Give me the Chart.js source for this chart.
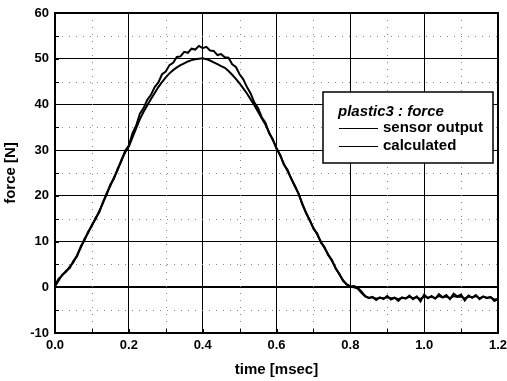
<!DOCTYPE html>
<html lang="en">
<head>
<meta charset="UTF-8" />
<title>plastic3 : force</title>
<script src="https://cdn.jsdelivr.net/npm/chart.js"></script>
<style>
  body { margin: 0; background: #fff; }
  .wrap { position: relative; width: 507px; height: 381px; }
</style>
</head>
<body>
<div class="wrap"><canvas id="forceChart" width="507" height="381"></canvas></div>
<script>
// samples every 0.01 msec, from 0.00 to 1.20
const sampleStep = 0.01;

const sensorOutput = [
  0.4, 1.9, 2.6, 3.6, 4.2, 5.8, 6.8, 9.0, 10.3, 12.2,
  13.4, 15.2, 16.4, 18.7, 20.3, 22.5, 23.8, 26.0, 27.6, 29.9,
  31.0, 33.7, 35.4, 38.0, 39.2, 41.0, 42.1, 43.8, 44.8, 46.6,
  47.2, 48.6, 49.1, 50.4, 50.5, 51.5, 51.3, 52.2, 52.0, 52.8,
  52.3, 52.6, 51.8, 51.7, 50.8, 51.0, 50.3, 50.2, 48.8, 48.2,
  46.6, 45.5, 43.8, 42.4, 40.4, 39.2, 37.2, 36.0, 33.7, 32.4,
  30.3, 29.0, 26.8, 25.7, 23.7, 22.2, 20.4, 18.3, 16.2, 14.8,
  12.8, 11.8, 9.8, 8.8, 7.0, 6.0, 4.1, 3.0, 1.4, 0.7,
  0.2, 0.3, -0.1, -0.9, -1.9, -2.4, -2.1, -2.8, -2.2, -2.6,
  -1.9, -2.7, -2.3, -3.0, -2.2, -2.5, -1.8, -2.6, -2.0, -3.1,
  -1.6, -2.4, -1.9, -2.5, -1.5, -2.2, -1.7, -2.6, -1.4, -2.0,
  -1.6, -2.9, -1.8, -2.3, -1.7, -2.6, -2.0, -2.4, -2.1, -3.0, -2.6
];

const calculated = [
  0.2, 1.5, 2.8, 3.4, 4.5, 5.5, 7.1, 8.7, 10.6, 11.9,
  13.7, 14.9, 16.7, 18.4, 20.6, 22.2, 24.1, 25.7, 27.9, 29.5,
  30.8, 32.8, 34.8, 36.8, 38.4, 39.8, 41.2, 42.5, 43.8, 44.9,
  45.9, 46.8, 47.5, 48.1, 48.6, 49.0, 49.4, 49.7, 49.9, 50.0,
  50.1, 49.9, 49.6, 49.2, 48.8, 48.4, 48.0, 47.3, 46.5, 45.6,
  44.6, 43.5, 42.4, 41.1, 39.8, 38.4, 37.0, 35.6, 33.9, 32.2,
  30.5, 28.8, 27.0, 25.4, 23.8, 22.0, 20.5, 18.1, 16.4, 14.6,
  13.0, 11.6, 10.0, 8.6, 7.2, 5.8, 4.3, 2.8, 1.6, 0.6,
  0.1, 0.0, -0.3, -1.2, -2.0, -2.3, -2.2, -2.5, -2.3, -2.4,
  -2.2, -2.4, -2.3, -2.6, -2.3, -2.4, -2.1, -2.4, -2.2, -2.6,
  -2.0, -2.3, -2.1, -2.4, -1.9, -2.2, -2.0, -2.4, -1.9, -2.1,
  -2.0, -2.5, -2.0, -2.2, -1.9, -2.4, -2.1, -2.3, -2.2, -2.7, -2.5
];

const xRange = [0, 1.2];
const yRange = [-10, 60];
const legendTitle = 'plastic3 : force';

const toPoints = arr => arr.map((y, i) => ({ x: +(i * sampleStep).toFixed(2), y }));

const fontFam = '"Liberation Sans", Arial, sans-serif';

// minor dotted grid, inward ticks, frame and the boxed legend
const decorations = {
  id: 'decorations',
  beforeDatasetsDraw(chart) {
    const { ctx, chartArea: a, scales: { x, y } } = chart;
    ctx.save();
    ctx.strokeStyle = '#888';
    ctx.lineWidth = 1;
    ctx.setLineDash([1, 6]);
    for (let v = 0.1; v < 1.2; v += 0.2) {
      const px = Math.round(x.getPixelForValue(v)) + 0.5;
      ctx.beginPath(); ctx.moveTo(px, a.top); ctx.lineTo(px, a.bottom); ctx.stroke();
    }
    for (let v = -5; v < 60; v += 10) {
      const py = Math.round(y.getPixelForValue(v)) + 0.5;
      ctx.beginPath(); ctx.moveTo(a.left, py); ctx.lineTo(a.right, py); ctx.stroke();
    }
    ctx.setLineDash([]);
    ctx.strokeStyle = '#000';
    for (let v = 0.1; v < 1.2; v += 0.1) {
      const px = Math.round(x.getPixelForValue(v)) + 0.5;
      ctx.beginPath(); ctx.moveTo(px, a.bottom); ctx.lineTo(px, a.bottom - 4); ctx.stroke();
    }
    for (let v = -5; v < 60; v += 5) {
      const py = Math.round(y.getPixelForValue(v)) + 0.5;
      ctx.beginPath(); ctx.moveTo(a.left, py); ctx.lineTo(a.left + 4, py); ctx.stroke();
    }
    ctx.restore();
  },
  afterDraw(chart) {
    const { ctx, chartArea: a } = chart;
    ctx.save();
    ctx.strokeStyle = '#000';
    ctx.lineWidth = 2;
    ctx.strokeRect(a.left, a.top, a.right - a.left, a.bottom - a.top);

    // legend box
    const bx = 323, by = 92, bw = 170, bh = 71;
    ctx.fillStyle = '#fff';
    ctx.fillRect(bx, by, bw, bh);
    ctx.lineWidth = 1.5;
    ctx.strokeRect(bx, by, bw, bh);
    ctx.fillStyle = '#000';
    ctx.textBaseline = 'middle';
    ctx.font = 'italic bold 15px ' + fontFam;
    ctx.fillText(legendTitle, bx + 15, by + 20);
    ctx.font = 'bold 15px ' + fontFam;
    chart.data.datasets.forEach((ds, i) => {
      const ly = by + 36 + i * 18;
      ctx.lineWidth = 1;
      ctx.beginPath(); ctx.moveTo(bx + 16, ly + 0.5); ctx.lineTo(bx + 55, ly + 0.5); ctx.stroke();
      ctx.fillText(ds.label, bx + 60, ly);
    });
    ctx.restore();
  }
};

new Chart(document.getElementById('forceChart'), {
  type: 'line',
  data: {
    datasets: [
      { label: 'sensor output', data: toPoints(sensorOutput), borderColor: '#000', borderWidth: 2, pointRadius: 0, tension: 0 },
      { label: 'calculated', data: toPoints(calculated), borderColor: '#000', borderWidth: 2, pointRadius: 0, tension: 0 }
    ]
  },
  options: {
    responsive: false,
    animation: false,
    devicePixelRatio: 1,
    layout: { padding: { top: 13, right: 9, left: 0, bottom: 0 } },
    plugins: { legend: { display: false }, tooltip: { enabled: false } },
    scales: {
      x: {
        type: 'linear',
        min: xRange[0], max: xRange[1],
        afterFit: s => { s.height = 48; s.paddingLeft = 0; s.paddingRight = 0; },
        ticks: {
          stepSize: 0.1, autoSkip: false, maxRotation: 0, padding: 5, color: '#000',
          font: { family: fontFam, size: 13, weight: 'bold' },
          callback: v => Math.round(v * 10) % 2 === 0 ? v.toFixed(1) : ''
        },
        grid: {
          drawTicks: false,
          color: c => Math.round(c.tick.value * 10) % 2 === 0 ? '#000' : 'rgba(0,0,0,0)',
          lineWidth: 1
        },
        border: { color: '#000', width: 2 },
        title: { display: true, text: 'time [msec]', color: '#000', padding: { top: 4, bottom: 2 },
          font: { family: fontFam, size: 15, weight: 'bold' } }
      },
      y: {
        min: yRange[0], max: yRange[1],
        afterFit: s => { s.width = 55; s.paddingTop = 0; s.paddingBottom = 0; },
        ticks: {
          stepSize: 5, autoSkip: false, padding: 6, color: '#000',
          font: { family: fontFam, size: 13, weight: 'bold' },
          callback: v => v % 10 === 0 ? v : ''
        },
        grid: {
          drawTicks: false,
          color: c => c.tick.value % 10 === 0 ? '#000' : 'rgba(0,0,0,0)',
          lineWidth: c => c.tick.value === 0 ? 2 : 1
        },
        border: { color: '#000', width: 2 },
        title: { display: true, text: 'force [N]', color: '#000', padding: { top: 2, bottom: 4 },
          font: { family: fontFam, size: 15, weight: 'bold' } }
      }
    }
  },
  plugins: [decorations]
});
</script>
</body>
</html>
